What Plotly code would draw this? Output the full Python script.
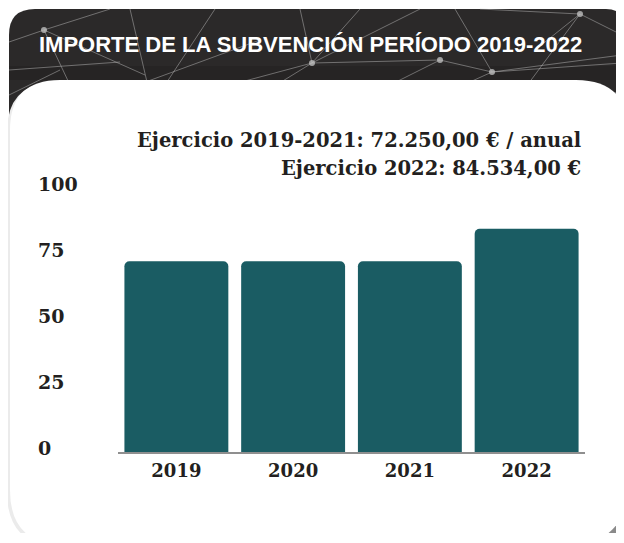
import plotly.graph_objects as go

# ---- data ----
years = ["2019", "2020", "2021", "2022"]
importe_miles = [72.25, 72.25, 72.25, 84.534]
y_ticks = [0, 25, 50, 75, 100]
y_tick_labels = ["0", "25", "50", "75", "100"]
title_text = "IMPORTE DE LA SUBVENCIÓN PERÍODO 2019-2022"
note_lines = ["Ejercicio 2019-2021: 72.250,00 € / anual", "Ejercicio 2022: 84.534,00 €"]

# ---- geometry (screen pixels; page body adds an 8px margin) ----
OFF = 8
FW, FH = 616, 525
PL, PR, PT, PB = 118, 585, 188, 452          # plot area in screen pixels
L, R, T, B = PL - OFF, (FW + OFF) - PR, PT - OFF, (FH + OFF) - PB
PW, PH = PR - PL, PB - PT

def px(x):
    return (x - PL) / PW

def py(y):
    return (PB - y) / PH

def rrect(x0, y0, x1, y1, r_tl, r_tr, r_br, r_bl):
    pts = []
    pts.append(f"M {px(x0 + r_tl)},{py(y0)}")
    pts.append(f"L {px(x1 - r_tr)},{py(y0)}")
    pts.append(f"Q {px(x1)},{py(y0)} {px(x1)},{py(y0 + r_tr)}")
    pts.append(f"L {px(x1)},{py(y1 - r_br)}")
    pts.append(f"Q {px(x1)},{py(y1)} {px(x1 - r_br)},{py(y1)}")
    pts.append(f"L {px(x0 + r_bl)},{py(y1)}")
    pts.append(f"Q {px(x0)},{py(y1)} {px(x0)},{py(y1 - r_bl)}")
    pts.append(f"L {px(x0)},{py(y0 + r_tl)}")
    pts.append(f"Q {px(x0)},{py(y0)} {px(x0 + r_tl)},{py(y0)}")
    pts.append("Z")
    return " ".join(pts)

XE = FW + OFF   # right edge of figure in screen pixels
YE = FH + OFF   # bottom edge

shapes = []
# dark header
shapes.append(dict(type="path", xref="paper", yref="paper", layer="below",
                   path=rrect(9, 9, XE, 200, 26, 18, 0, 0),
                   fillcolor="#2b2929", line=dict(width=0)))
shapes.append(dict(type="rect", xref="paper", yref="paper", layer="below",
                   x0=px(9), x1=px(XE), y0=py(80), y1=py(66),
                   fillcolor="#262424", line=dict(width=0)))
# network lines
net = [
    ((9, 42), (44, 30)), ((44, 30), (110, 9)), ((44, 30), (145, 75)), ((44, 30), (70, 85)),
    ((9, 70), (120, 62)), ((130, 9), (150, 95)), ((215, 9), (165, 85)), ((110, 95), (260, 40)),
    ((312, 63), (230, 85)), ((312, 63), (360, 9)), ((312, 63), (420, 9)), ((312, 63), (440, 60)),
    ((312, 63), (300, 9)), ((440, 60), (492, 72)), ((492, 72), (455, 9)), ((492, 72), (430, 100)),
    ((492, 72), (622, 55)), ((492, 72), (622, 63)), ((580, 14), (535, 50)), ((580, 14), (620, 34)),
    ((580, 14), (480, 9)), ((370, 95), (440, 60)), ((260, 95), (312, 63)),
    ((9, 95), (60, 70)), ((520, 95), (580, 14)),
]
for (a, b) in net:
    shapes.append(dict(type="line", xref="paper", yref="paper", layer="below",
                       x0=px(a[0]), y0=py(a[1]), x1=px(b[0]), y1=py(b[1]),
                       line=dict(color="rgba(200,200,200,0.45)", width=1)))
for (cx, cy) in [(44, 30), (312, 63), (492, 72), (580, 14), (440, 60)]:
    shapes.append(dict(type="circle", xref="paper", yref="paper", layer="below",
                       x0=px(cx - 3), x1=px(cx + 3), y0=py(cy - 3), y1=py(cy + 3),
                       fillcolor="rgba(190,190,190,0.8)", line=dict(width=0)))
# panel shadows
shapes.append(dict(type="path", xref="paper", yref="paper", layer="below",
                   path=rrect(7, 82, XE + 4, YE + 14, 50, 52, 60, 55),
                   fillcolor="#ebebeb", line=dict(width=0)))
shapes.append(dict(type="path", xref="paper", yref="paper", layer="below",
                   path=rrect(30, 90, XE + 24, YE + 24, 50, 52, 66, 55),
                   fillcolor="#8a8a8a", line=dict(width=0)))
# white panel
shapes.append(dict(type="path", xref="paper", yref="paper", layer="below",
                   path=rrect(10, 80, XE + 4, YE + 12, 50, 52, 62, 55),
                   fillcolor="#ffffff", line=dict(width=0)))

annotations = []
annotations.append(dict(text=title_text, xref="paper", yref="paper",
                        x=px(310), y=py(45), xanchor="center", yanchor="middle",
                        showarrow=False,
                        font=dict(family="Liberation Sans", size=22, color="#ffffff",
                                  weight="bold")))
for i, line in enumerate(note_lines):
    annotations.append(dict(text=line, xref="paper", yref="paper",
                            x=px(583), y=py(140 + 28 * i), xanchor="right", yanchor="middle",
                            showarrow=False,
                            font=dict(family="DejaVu Serif", size=19.5, color="#231f20",
                                      weight="bold")))
for v, lab in zip(y_ticks, y_tick_labels):
    annotations.append(dict(text=lab, xref="paper", yref="y", x=px(36), y=v,
                            xanchor="left", yanchor="middle", yshift=4, showarrow=False,
                            font=dict(family="DejaVu Serif", size=19, color="#231f20",
                                      weight="bold")))

fig = go.Figure(go.Bar(x=years, y=importe_miles, marker=dict(color="#1a5c63",
                                                           line=dict(width=0),
                                                           cornerradius=5),
                       hoverinfo="x+y"))
fig.update_layout(
    width=FW, height=FH,
    margin=dict(l=L, r=R, t=T, b=B),
    paper_bgcolor="#ffffff", plot_bgcolor="rgba(0,0,0,0)",
    bargap=0.11, showlegend=False,
    shapes=shapes, annotations=annotations,
    xaxis=dict(showgrid=False, showline=True, linecolor="#8f8f8f", linewidth=1.5,
               ticks="", ticklabelstandoff=2,
               tickfont=dict(family="DejaVu Serif", size=18, color="#231f20", weight="bold")),
    yaxis=dict(range=[0, 100], showgrid=False, zeroline=False, showticklabels=False,
               tickvals=y_ticks),
)
fig.write_html("out.html")
